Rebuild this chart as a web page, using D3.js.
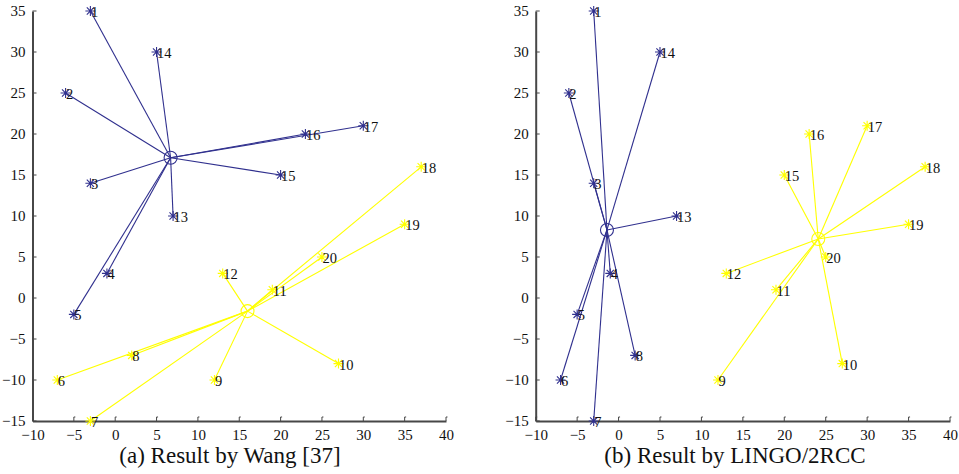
<!DOCTYPE html>
<html>
<head>
<meta charset="utf-8">
<script src="https://cdn.jsdelivr.net/npm/d3@7"></script>
<style>
  html, body { margin: 0; padding: 0; background: #fff; }
  svg { display: block; }
  text { font-family: "Liberation Serif", "Times New Roman", serif; fill: #111; }
</style>
</head>
<body>
<svg id="chart" width="959" height="474"></svg>
<script>
// Customer locations (same 20 points in both panels)
const pointLabels = ["1","2","3","4","5","6","7","8","9","10","11","12","13","14","15","16","17","18","19","20"];
const pointX = [-3, -6, -3, -1, -5, -7, -3, 2, 12, 27, 19, 13, 7, 5, 20, 23, 30, 37, 35, 25];
const pointY = [35, 25, 14, 3, -2, -10, -15, -7, -10, -8, 1, 3, 10, 30, 15, 20, 21, 16, 9, 5];

// Cluster membership (point numbers) and cluster centres for each panel
const wangBlue   = [1, 2, 3, 4, 5, 13, 14, 15, 16, 17];
const wangYellow = [6, 7, 8, 9, 10, 11, 12, 18, 19, 20];
const wangCentres = [[6.7, 17.1], [16.0, -1.6]];

const lingoBlue   = [1, 2, 3, 4, 5, 6, 7, 8, 13, 14];
const lingoYellow = [9, 10, 11, 12, 15, 16, 17, 18, 19, 20];
const lingoCentres = [[-1.4, 8.3], [24.1, 7.2]];

const tickValues = [-10, -5, 0, 5, 10, 15, 20, 25, 30, 35, 40];
const yTickValues = [-15, -10, -5, 0, 5, 10, 15, 20, 25, 30, 35];
const captions = ["(a) Result by Wang [37]", "(b) Result by LINGO/2RCC"];

const BLUE = "#30308e";
const YELLOW = "#ffff00";
const SERIF = '"Liberation Serif", "Times New Roman", serif';

const svg = d3.select("#chart");

const panels = [
  { left: 32.5, right: 446, groups: [wangBlue, wangYellow], centres: wangCentres, caption: captions[0], capX: 230 },
  { left: 535.7, right: 950, groups: [lingoBlue, lingoYellow], centres: lingoCentres, caption: captions[1], capX: 735 }
];

const plotTop = 11, plotBottom = 421;

// asterisk marker: plus + cross
function starPath(cx, cy) {
  const a = 5, d = 3.6;
  return `M${cx - a},${cy}L${cx + a},${cy}M${cx},${cy - a}L${cx},${cy + a}` +
         `M${cx - d},${cy - d}L${cx + d},${cy + d}M${cx - d},${cy + d}L${cx + d},${cy - d}`;
}

panels.forEach(p => {
  const x = d3.scaleLinear().domain([-10, 40]).range([p.left, p.right]);
  const y = d3.scaleLinear().domain([-15, 35]).range([plotBottom, plotTop]);
  const g = svg.append("g");
  const colors = [BLUE, YELLOW];

  // axes
  const xAxis = d3.axisBottom(x).tickValues(tickValues).tickSize(0).tickPadding(8).tickFormat(d3.format("d"));
  const yAxis = d3.axisLeft(y).tickValues(yTickValues).tickSize(0).tickPadding(7).tickFormat(d3.format("d"));

  const gx = g.append("g").attr("transform", `translate(0,${plotBottom})`).call(xAxis);
  const gy = g.append("g").attr("transform", `translate(${p.left},0)`).call(yAxis);
  [gx, gy].forEach(ax => {
    ax.attr("font-family", SERIF).attr("font-size", 15);
    ax.select(".domain").attr("stroke", "#474747").attr("stroke-width", 2);
    ax.selectAll("text").attr("fill", "#111");
  });
  gx.selectAll("text").attr("dy", "0.71em");

  // inward tick marks
  g.append("g").selectAll("path").data(tickValues).join("path")
    .attr("d", d => `M${x(d)},${plotBottom}L${x(d)},${plotBottom - 4}L${x(d) + 1.5},${plotBottom - 4}`)
    .attr("stroke", "#474747").attr("stroke-width", 1).attr("fill", "none");
  g.append("g").selectAll("path").data(yTickValues).join("path")
    .attr("d", d => `M${p.left},${y(d)}L${p.left + 4},${y(d)}`)
    .attr("stroke", "#474747").attr("stroke-width", 1).attr("fill", "none");

  // spokes from centres to members
  p.groups.forEach((members, gi) => {
    const [cx, cy] = p.centres[gi];
    g.append("g").selectAll("line").data(members).join("line")
      .attr("x1", x(cx)).attr("y1", y(cy))
      .attr("x2", m => x(pointX[m - 1])).attr("y2", m => y(pointY[m - 1]))
      .attr("stroke", colors[gi]).attr("stroke-width", 1.1);
  });

  // point markers
  p.groups.forEach((members, gi) => {
    g.append("g").selectAll("path").data(members).join("path")
      .attr("d", m => starPath(x(pointX[m - 1]), y(pointY[m - 1])))
      .attr("stroke", colors[gi]).attr("stroke-width", 1.1).attr("fill", "none");
  });

  // centre circles
  p.centres.forEach((c, gi) => {
    g.append("circle").attr("cx", x(c[0])).attr("cy", y(c[1])).attr("r", 6.5)
      .attr("fill", "none").attr("stroke", colors[gi]).attr("stroke-width", 1.1);
  });

  // point labels
  g.append("g").attr("font-family", SERIF).selectAll("text").data(pointLabels).join("text")
    .attr("x", (d, i) => x(pointX[i]) + 0.5)
    .attr("y", (d, i) => y(pointY[i]) + 1)
    .attr("dy", "0.35em")
    .attr("font-size", 14.5)
    .text(d => d);

  // caption
  g.append("text")
    .attr("x", p.capX)
    .attr("y", 463)
    .attr("text-anchor", "middle")
    .attr("font-family", SERIF)
    .attr("font-size", 23)
    .text(p.caption);
});
</script>
</body>
</html>
